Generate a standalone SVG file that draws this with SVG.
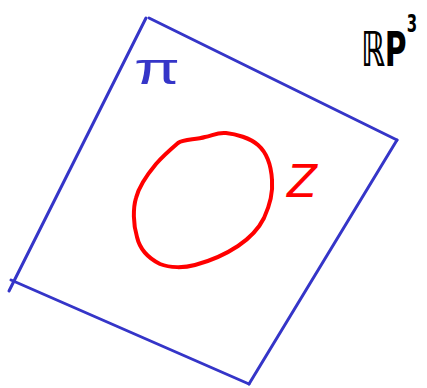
<svg xmlns="http://www.w3.org/2000/svg" width="427" height="388" viewBox="0 0 427 388">
<style>
.edge{fill:none;stroke:#3535c8;stroke-width:3;stroke-linecap:round;stroke-linejoin:round}
.curve{fill:none;stroke:#ff0000;stroke-width:4;stroke-linecap:round;stroke-linejoin:round}
.lbl{font-family:"DejaVu Sans","Liberation Sans",sans-serif}
</style>
<rect width="427" height="388" fill="#ffffff"/>
<g id="connectors">
<path class="edge" d="M146,18 L9,291"/>
<path class="edge" d="M149,18 L397,140"/>
<path class="edge" d="M397,140 L249,384"/>
<path class="edge" d="M11,280 L249,384"/>
</g>
<g id="plane-pi">
<text x="134" y="84" font-family="Liberation Sans, sans-serif" font-size="44" fill="#3535c8" textLength="46" lengthAdjust="spacingAndGlyphs">π</text>
</g>
<g id="rp3">
<text class="lbl" transform="translate(361,66) scale(0.62,1)" font-size="48" font-weight="bold" fill="#000000">ℝP<tspan font-size="24" dy="-34">3</tspan></text>
</g>
<g id="curve-z">
<path class="curve" d="M178,143 C184,139 195,140 205,137 C212,136 217,132 226,133 C236,134 250,138 258,145 C266,152 271,163 272,180 C273,192 270,205 264,218 C258,230 250,238 238,246 C226,254 210,261 195,265 C184,268 170,268 160,264 C150,259 140,250 137,237 C133,224 133,208 136,198 C139,186 146,176 156,164 C163,156 171,149 178,143 Z"/>
</g>
<g id="label-z">
<text class="lbl" x="287" y="197" font-size="44" fill="#ff0000" font-style="italic">Z</text>
</g>
</svg>
